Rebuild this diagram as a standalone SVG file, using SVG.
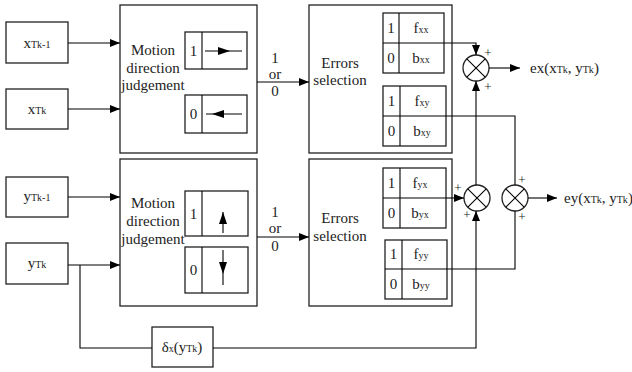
<svg xmlns="http://www.w3.org/2000/svg" width="632" height="372" viewBox="0 0 632 372" font-family="'Liberation Serif','Times New Roman','DejaVu Serif',serif">
<style>
.b{fill:#fff;stroke:#222;stroke-width:1.3}
.l{fill:none;stroke:#000;stroke-width:1.1}
.t{font-family:'Liberation Serif','Times New Roman','DejaVu Serif',serif;font-size:15px;fill:#222}
.s{font-size:10px}
.p{font-family:'Liberation Serif','Times New Roman','DejaVu Serif',serif;font-size:13px;fill:#222;text-anchor:middle}
.m{text-anchor:middle}
</style>
<defs>
<marker id="a" viewBox="0 0 10 8" refX="10" refY="4" markerWidth="10" markerHeight="8" markerUnits="userSpaceOnUse" orient="auto">
<path d="M0,0L10,4L0,8z" fill="#000"/>
</marker>
</defs>
<rect width="632" height="372" fill="#fff"/>
<g id="xTk1"><rect class="b" x="6" y="22" width="62" height="41"/><text class="t m" x="37" y="48">x<tspan class="s">Tk-1</tspan></text></g>
<g id="xTk"><rect class="b" x="6" y="89" width="62" height="40"/><text class="t m" x="37" y="114">x<tspan class="s">Tk</tspan></text></g>
<g id="yTk1"><rect class="b" x="6" y="177" width="62" height="40"/><text class="t m" x="37" y="201">y<tspan class="s">Tk-1</tspan></text></g>
<g id="yTk"><rect class="b" x="6" y="243" width="62" height="41"/><text class="t m" x="37" y="268">y<tspan class="s">Tk</tspan></text></g>
<g id="delta"><rect class="b" x="152" y="327" width="61" height="40"/><text class="t m" x="182" y="352">δ<tspan class="s">x</tspan>(y<tspan class="s">Tk</tspan>)</text></g>
<g id="motionX">
<rect class="b" x="120" y="5" width="137" height="148"/>
<text class="t m" x="153" y="55">Motion</text><text class="t m" x="153" y="73">direction</text><text class="t m" x="153" y="90">judgement</text>
<rect class="b" x="185" y="32" width="62" height="37"/><line class="l" x1="202" y1="32" x2="202" y2="69"/><text class="t m" x="193.5" y="56">1</text>
<line class="l" x1="205" y1="51" x2="242" y2="51"/><path d="M218,47L230,51L218,55z"/>
<rect class="b" x="185" y="95" width="62" height="38"/><line class="l" x1="202" y1="95" x2="202" y2="133"/><text class="t m" x="193.5" y="119">0</text>
<line class="l" x1="206" y1="114" x2="242" y2="114"/><path d="M224,110L212,114L224,118z"/>
</g>
<g id="motionY">
<rect class="b" x="120" y="159" width="137" height="147"/>
<text class="t m" x="153" y="208">Motion</text><text class="t m" x="153" y="226">direction</text><text class="t m" x="153" y="244">judgement</text>
<rect class="b" x="185" y="191" width="63" height="45"/><line class="l" x1="202" y1="191" x2="202" y2="236"/><text class="t m" x="193.5" y="219">1</text>
<line class="l" x1="223" y1="233" x2="223" y2="212"/><path d="M219,224L223,212L227,224z"/>
<rect class="b" x="185" y="247" width="63" height="46"/><line class="l" x1="202" y1="247" x2="202" y2="293"/><text class="t m" x="193.5" y="275">0</text>
<line class="l" x1="223" y1="250" x2="223" y2="285"/><path d="M219,262L223,274L227,262z"/>
</g>
<g id="errX">
<rect class="b" x="309" y="5" width="143" height="148"/>
<text class="t m" x="340" y="68">Errors</text><text class="t m" x="340" y="85">selection</text>
<rect class="b" x="383" y="13" width="61" height="60"/><line class="l" x1="383" y1="43" x2="444" y2="43"/><line class="l" x1="399" y1="13" x2="399" y2="73"/>
<text class="t m" x="391" y="33">1</text><text class="t m" x="421" y="33">f<tspan class="s">xx</tspan></text>
<text class="t m" x="391" y="63">0</text><text class="t m" x="421" y="63">b<tspan class="s">xx</tspan></text>
<rect class="b" x="383" y="86" width="63" height="60"/><line class="l" x1="383" y1="116" x2="446" y2="116"/><line class="l" x1="400" y1="86" x2="400" y2="146"/>
<text class="t m" x="391.5" y="106">1</text><text class="t m" x="422" y="106">f<tspan class="s">xy</tspan></text>
<text class="t m" x="391.5" y="136">0</text><text class="t m" x="422" y="136">b<tspan class="s">xy</tspan></text>
</g>
<g id="errY">
<rect class="b" x="309" y="159" width="143" height="147"/>
<text class="t m" x="340" y="223">Errors</text><text class="t m" x="340" y="241">selection</text>
<rect class="b" x="383" y="168" width="63" height="60"/><line class="l" x1="383" y1="198" x2="446" y2="198"/><line class="l" x1="400" y1="168" x2="400" y2="228"/>
<text class="t m" x="391.5" y="188">1</text><text class="t m" x="420" y="188">f<tspan class="s">yx</tspan></text>
<text class="t m" x="391.5" y="218">0</text><text class="t m" x="420" y="218">b<tspan class="s">yx</tspan></text>
<rect class="b" x="385" y="240" width="62" height="59"/><line class="l" x1="385" y1="269" x2="447" y2="269"/><line class="l" x1="402" y1="240" x2="402" y2="299"/>
<text class="t m" x="393.5" y="259">1</text><text class="t m" x="421" y="259">f<tspan class="s">yy</tspan></text>
<text class="t m" x="393.5" y="289">0</text><text class="t m" x="421" y="289">b<tspan class="s">yy</tspan></text>
</g>
<g id="sumX"><circle class="b" cx="476" cy="68" r="13"/><path class="l" d="M466.8,58.8L485.2,77.2M485.2,58.8L466.8,77.2"/>
<text class="p" x="488" y="57">+</text><text class="p" x="488" y="91">+</text></g>
<g id="sumYX"><circle class="b" cx="477" cy="198" r="13"/><path class="l" d="M467.8,188.8L486.2,207.2M486.2,188.8L467.8,207.2"/>
<text class="p" x="458" y="192">+</text><text class="p" x="467" y="219">+</text></g>
<g id="sumY"><circle class="b" cx="515" cy="198" r="13"/><path class="l" d="M505.8,188.8L524.2,207.2M524.2,188.8L505.8,207.2"/>
<text class="p" x="522" y="184">+</text><text class="p" x="522" y="221">+</text></g>
<g id="labels">
<text class="t" x="530" y="73">ex(x<tspan class="s">Tk</tspan>, y<tspan class="s">Tk</tspan>)</text>
<text class="t" x="564" y="203">ey(x<tspan class="s">Tk</tspan>, y<tspan class="s">Tk</tspan>)</text>
<text class="t m" x="275" y="63">1</text><text class="t m" x="275" y="79">or</text><text class="t m" x="275" y="96">0</text>
<text class="t m" x="275" y="217">1</text><text class="t m" x="275" y="233">or</text><text class="t m" x="275" y="251">0</text>
</g>
<g id="connectors">
<line class="l" x1="68" y1="43" x2="120" y2="43" marker-end="url(#a)"/>
<line class="l" x1="68" y1="109" x2="120" y2="109" marker-end="url(#a)"/>
<line class="l" x1="68" y1="197" x2="120" y2="197" marker-end="url(#a)"/>
<line class="l" x1="68" y1="265" x2="120" y2="265" marker-end="url(#a)"/>
<line class="l" x1="257" y1="82" x2="309" y2="82" marker-end="url(#a)"/>
<line class="l" x1="257" y1="237" x2="309" y2="237" marker-end="url(#a)"/>
<path class="l" d="M80,265V348H152"/>
<path class="l" d="M213,348H476V211" marker-end="url(#a)"/>
<path class="l" d="M444,43H476V55" marker-end="url(#a)"/>
<path class="l" d="M476,185V81" marker-end="url(#a)"/>
<line class="l" x1="446" y1="198" x2="464" y2="198" marker-end="url(#a)"/>
<path class="l" d="M446,116H515V185"/>
<path class="l" d="M447,269H515V211"/>
<line class="l" x1="489" y1="68" x2="520" y2="68" marker-end="url(#a)"/>
<line class="l" x1="528" y1="198" x2="557" y2="198" marker-end="url(#a)"/>
</g>
</svg>
